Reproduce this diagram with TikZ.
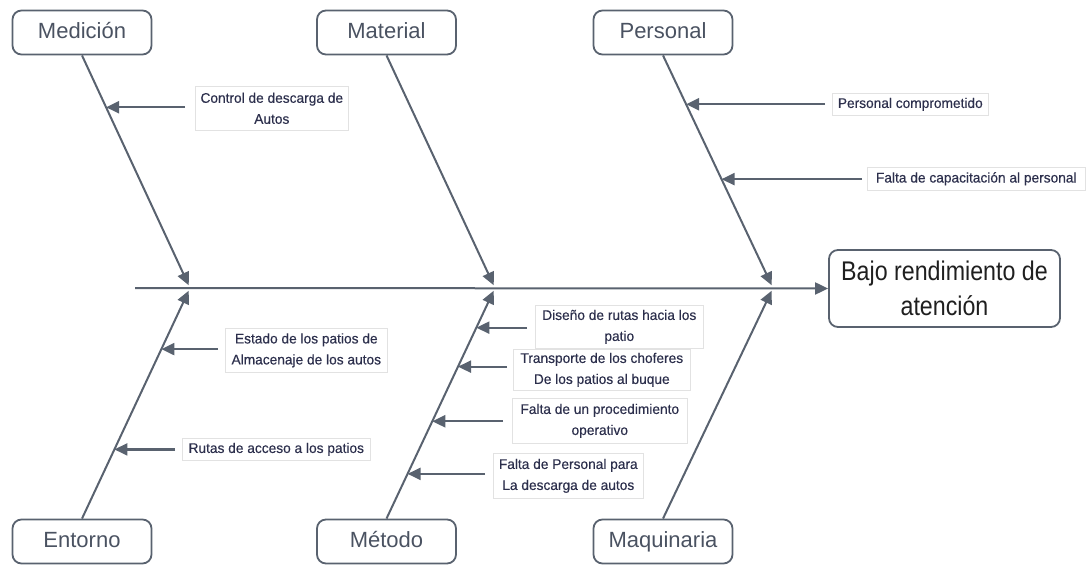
\documentclass[tikz,border=0pt]{standalone}
\usepackage{fontspec}
\setmainfont{Liberation Sans}
\newfontfamily\catfont{Liberation Sans}
\newfontfamily\efffont[FakeStretch=0.86]{Liberation Sans}
\newfontfamily\causefont[FakeStretch=0.98,FakeBold=0.4]{Liberation Sans}
\usetikzlibrary{arrows.meta,calc}
\definecolor{linegray}{HTML}{59626F}
\definecolor{textgray}{HTML}{4A5261}
\definecolor{causeink}{HTML}{2C2F4C}
\definecolor{boxlight}{HTML}{E2E2E2}
\tikzset{
  category/.style={draw=linegray, line width=1.8pt, rounded corners=9pt,
    minimum width=139pt, minimum height=44pt, text=textgray,
    font=\catfont\fontsize{22}{25}\selectfont, inner sep=0pt,
    text height=15.5pt, text depth=4pt},
  effect/.style={draw=linegray, line width=1.8pt, rounded corners=9pt,
    minimum width=231pt, minimum height=77pt, text=black!88,
    font=\efffont\fontsize{27}{35}\selectfont, align=center, inner sep=0pt},
  cause/.style={draw=boxlight, line width=0.6pt, text=causeink, align=center,
    font=\causefont\fontsize{14}{21}\selectfont, inner sep=0pt, anchor=north west},
  bone/.style={draw=linegray, line width=2pt,
    -{Triangle[length=13pt,width=12pt]}, shorten >=3pt},
  spine/.style={draw=linegray, line width=2pt, -{Triangle[length=13pt,width=12pt]}},
  causearrow/.style={draw=linegray, line width=2.2pt, -{Triangle[length=13pt,width=12pt]}}
}
\begin{document}
\begin{tikzpicture}[x=1pt,y=-1pt]
\useasboundingbox (0,0) rectangle (1092,565);

% categories
\node[category] (med) at (82,32.5) {Medición};
\node[category] (mat) at (386.5,32.5) {Material};
\node[category] (per) at (663,32.5) {Personal};
\node[category] (ent) at (82,541.5) {Entorno};
\node[category] (met) at (386.5,541.5) {Método};
\node[category] (maq) at (663,541.5) {Maquinaria};

% effect
\node[effect] (eff) at (944.5,288.5) {Bajo rendimiento de\\atención};

% junctions on the spine
\coordinate (j1) at (190,288);
\coordinate (j2) at (495,288);
\coordinate (j3) at (773,288);
\coordinate (tail) at (135,288);

% spine and bones
\draw[spine] (tail) -- (eff.west);
\draw[bone] (med.south) -- (j1);
\draw[bone] (mat.south) -- (j2);
\draw[bone] (per.south) -- (j3);
\draw[bone] (ent.north) -- (j1);
\draw[bone] (met.north) -- (j2);
\draw[bone] (maq.north) -- (j3);

% cause labels
\node[cause, minimum width=153pt, minimum height=44pt] (c1) at (195,86)
  {Control de descarga de\\Autos};
\node[cause, minimum width=156pt, minimum height=22pt] (c2) at (832,93)
  {Personal comprometido};
\node[cause, minimum width=218pt, minimum height=23pt] (c3) at (867,167)
  {Falta de capacitación al personal};
\node[cause, minimum width=162pt, minimum height=44pt] (c4) at (225,328)
  {Estado de los patios de\\Almacenaje de los autos};
\node[cause, minimum width=188pt, minimum height=22pt] (c5) at (182,438)
  {Rutas de acceso a los patios};
\node[cause, minimum width=168pt, minimum height=43pt] (c6) at (535,305)
  {Diseño de rutas hacia los\\patio};
\node[cause, minimum width=177pt, minimum height=41pt, fill=white] (c7) at (513,349)
  {Transporte de los choferes\\De los patios al buque};
\node[cause, minimum width=175pt, minimum height=45pt] (c8) at (512,398)
  {Falta de un procedimiento\\operativo};
\node[cause, minimum width=150pt, minimum height=45pt] (c9) at (493,453)
  {Falta de Personal para\\La descarga de autos};

% points where the cause arrows meet the bones
\coordinate (p1) at ($(med.south)!0.223!(j1)$);
\coordinate (p2) at ($(per.south)!0.210!(j3)$);
\coordinate (p3) at ($(per.south)!0.532!(j3)$);
\coordinate (p4) at ($(j1)!0.265!(ent.north)$);
\coordinate (p5) at ($(j1)!0.700!(ent.north)$);
\coordinate (p6) at ($(j2)!0.172!(met.north)$);
\coordinate (p7) at ($(j2)!0.341!(met.north)$);
\coordinate (p8) at ($(j2)!0.578!(met.north)$);
\coordinate (p9) at ($(j2)!0.806!(met.north)$);

% tails of the cause arrows
\coordinate (s1) at (185,0);
\coordinate (s2) at (825,0);
\coordinate (s3) at (862,0);
\coordinate (s4) at (218,0);
\coordinate (s5) at (175,0);
\coordinate (s6) at (527,0);
\coordinate (s7) at (507,0);
\coordinate (s8) at (503,0);
\coordinate (s9) at (485,0);

\foreach \i in {1,...,9}
  \draw[causearrow] (s\i |- p\i) -- (p\i);
\end{tikzpicture}
\end{document}
